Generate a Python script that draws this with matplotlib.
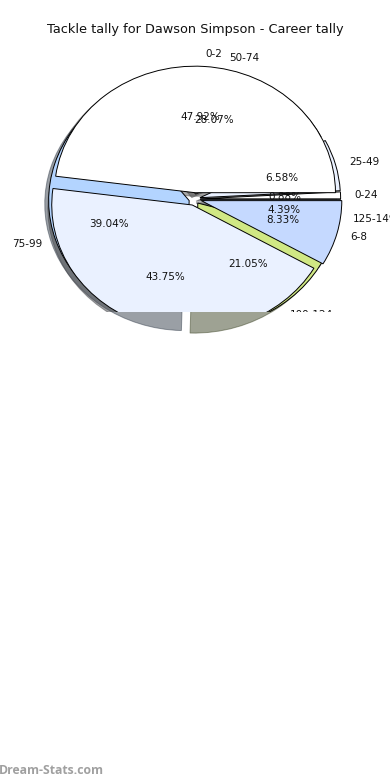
import matplotlib
matplotlib.use('Agg')
import matplotlib.pyplot as plt
from matplotlib.patches import Shadow

tally_labels = ['0-24', '25-49', '50-74', '75-99', '100-124', '125-149']
tally_values = [0.88, 6.58, 28.07, 39.04, 21.05, 4.39]
tally_colors = ['#ffffff', '#eaf1ff', '#ffffff', '#b3d4ff', '#d0e884', '#c5d9ff']

goal_labels = ['0-2', '3-5', '6-8']
goal_values = [47.92, 43.75, 8.33]
goal_colors = ['#ffffff', '#eaf1ff', '#c5d9ff']

W, H = 390, 780
CX, CY, RX, RY = 194.5, 199, 140.5, 126.5
AX_TOP, AX_BOTTOM = 40, 312

fig = plt.figure(figsize=(W / 100, H / 100), dpi=100)
ax = fig.add_axes([0, 1 - AX_BOTTOM / H, 1, (AX_BOTTOM - AX_TOP) / H])


def draw_pie(values, labels, colors, explode, keep_shadow):
    before = len(ax.patches)
    wedges, texts, autotexts = ax.pie(
        values, labels=labels, colors=colors, explode=[explode] * len(values),
        autopct='%.2f%%', shadow=True, startangle=0,
        wedgeprops={'edgecolor': 'black', 'linewidth': 0.7},
        textprops={'fontsize': 7.5, 'color': '#111111'})
    for patch in ax.patches[before:]:
        if isinstance(patch, Shadow) and keep_shadow:
            patch.set_clip_on(False)
        else:
            patch.set_clip_on(True)
            patch.set_clip_path(ax.patch)
    for text in list(texts) + list(autotexts):
        text.set_clip_on(True)
        text.set_clip_box(ax.bbox)


draw_pie(tally_values, tally_labels, tally_colors, 0.04, True)
draw_pie(goal_values, goal_labels, goal_colors, 0.05, False)

# squashed pie, so the axes can't stay equal
ax.set_aspect('auto')
ax.set_xlim(-CX / RX, (W - CX) / RX)
ax.set_ylim(-(AX_BOTTOM - CY) / RY, (CY - AX_TOP) / RY)

fig.text(0.5, 1 - 30 / H, 'Tackle tally for Dawson Simpson - Career tally',
         ha='center', va='center', fontsize=9.3, color='#111111')
fig.text(-1 / W, 1 - 771 / H, 'Dream-Stats.com', ha='left', va='center',
         fontsize=8.8, fontweight='bold', family='Open Sans', color='#a0a0a0')

fig.savefig('out.png', dpi=100)
